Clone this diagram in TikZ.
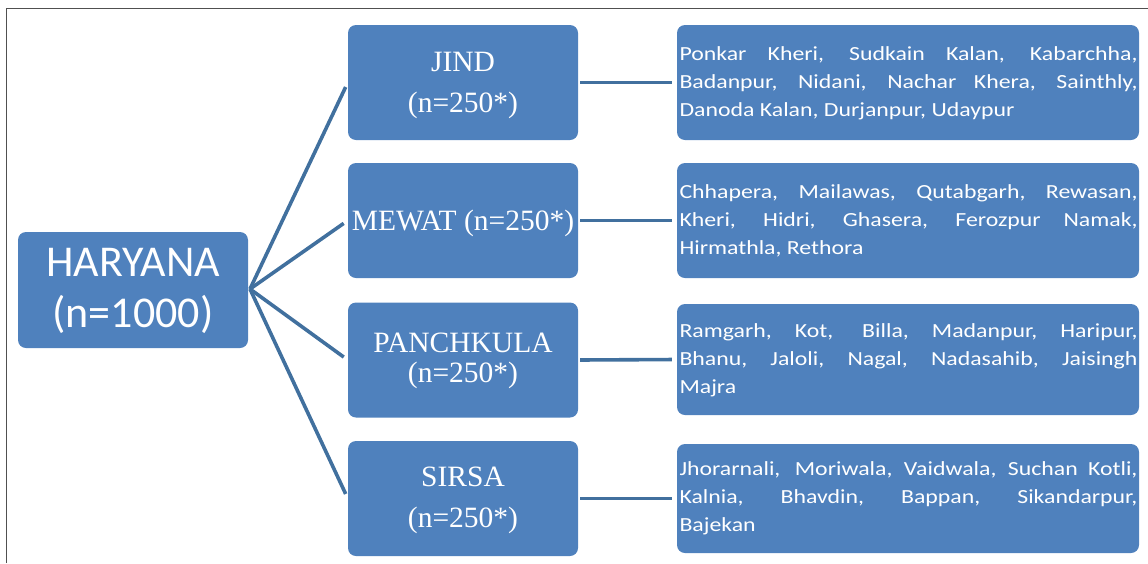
\documentclass[tikz,border=0pt]{standalone}
\usepackage{fontspec}
\setmainfont{Carlito}
\newfontfamily\serifx{Liberation Serif}
\newfontfamily\villfont{Carlito}[FakeStretch=1.19]
\definecolor{boxblue}{HTML}{4F81BD}
\definecolor{linkblue}{HTML}{41709E}
\definecolor{framegray}{HTML}{505050}
\hbadness=10000
\hyphenpenalty=10000
\exhyphenpenalty=10000
\tikzset{
  bluebox/.style={fill=boxblue, draw=none, rounded corners=8pt, inner sep=0pt},
  rootbox/.style={bluebox, minimum width=230pt, minimum height=116pt},
  distbox/.style={bluebox, minimum width=230pt, minimum height=115pt},
  villbox/.style={bluebox, minimum width=462pt},
  roottext/.style={text=white, align=center, inner sep=0pt, font=\fontsize{44}{51}\selectfont},
  disttext/.style={text=white, align=center, inner sep=0pt, font=\serifx\fontsize{29.5}{41}\selectfont},
  villtext/.style={text=white, align=justify, text width=458pt, inner sep=0pt, font=\villfont\fontsize{20}{28}\selectfont},
  link/.style={draw=linkblue, line width=3.6pt}
}
\begin{document}
\begin{tikzpicture}[x=1pt,y=-1pt]
\useasboundingbox (0,0) rectangle (1148,563);
\draw[framegray, line width=1.2pt] (6.7,563) -- (6.7,8.5) -- (1148,8.5);

% root
\node[rootbox] (har) at (133,290) {};
\node[roottext] (hart) at (133,291) {HARYANA\\(n=1000)};

% districts
\node[distbox] (jind) at (463,82.5) {};
\node[disttext] (jindt) at (463,85) {JIND\\(n=250*)};
\node[distbox] (mewat) at (463,220.5) {};
\node[disttext] (mewatt) at (463,223) {MEWAT (n=250*)};
\node[distbox] (panch) at (463,360) {};
\node[disttext, font=\serifx\fontsize{29.5}{30}\selectfont] (pancht) at (463,361) {PANCHKULA\\(n=250*)};
\node[distbox] (sirsa) at (463,498.5) {};
\node[disttext] (sirsat) at (463,500) {SIRSA\\(n=250*)};

% villages
\node[villbox, minimum height=115pt] (jindv) at (908,82.5) {};
\node[villtext] (jindvt) at (908.5,83) {Ponkar Kheri, Sudkain Kalan, Kabarchha,\linebreak Badanpur, Nidani, Nachar Khera, Sainthly,\linebreak Danoda Kalan, Durjanpur, Udaypur};
\node[villbox, minimum height=115pt] (mewatv) at (908,220.5) {};
\node[villtext] (mewatvt) at (908.5,221) {Chhapera, Mailawas, Qutabgarh, Rewasan,\linebreak Kheri, Hidri, Ghasera, Ferozpur Namak,\linebreak Hirmathla, Rethora};
\node[villbox, minimum height=111pt] (panchv) at (908,359.5) {};
\node[villtext] (panchvt) at (908.5,360) {Ramgarh, Kot,\hspace{6pt} Billa, Madanpur, Haripur,\linebreak Bhanu, Jaloli, Nagal, Nadasahib, Jaisingh\linebreak Majra};
\node[villbox, minimum height=109pt] (sirsav) at (908,498.5) {};
\node[villtext] (sirsavt) at (908.5,498) {Jhorarnali,\hspace{3pt} Moriwala, Vaidwala, Suchan Kotli,\linebreak Kalnia, Bhavdin, Bappan, Sikandarpur,\linebreak Bajekan};

% connectors
\coordinate (hub) at (250,289);
\draw[link, shorten >=5pt] (hub) -- (jind.west);
\draw[link, shorten >=5pt] (hub) -- (mewat.west);
\draw[link, shorten >=5pt] (hub) -- (panch.west);
\draw[link, shorten >=5pt] (hub) -- (sirsa.west);
\draw[link, shorten <=2pt, shorten >=5pt] (jind.east) -- (jindv.west);
\draw[link, shorten <=2pt, shorten >=5pt] (mewat.east) -- (mewatv.west);
\draw[link, shorten <=2pt, shorten >=5pt] (panch.east) -- (panchv.west);
\draw[link, shorten <=2pt, shorten >=5pt] (sirsa.east) -- (sirsav.west);
\end{tikzpicture}
\end{document}
